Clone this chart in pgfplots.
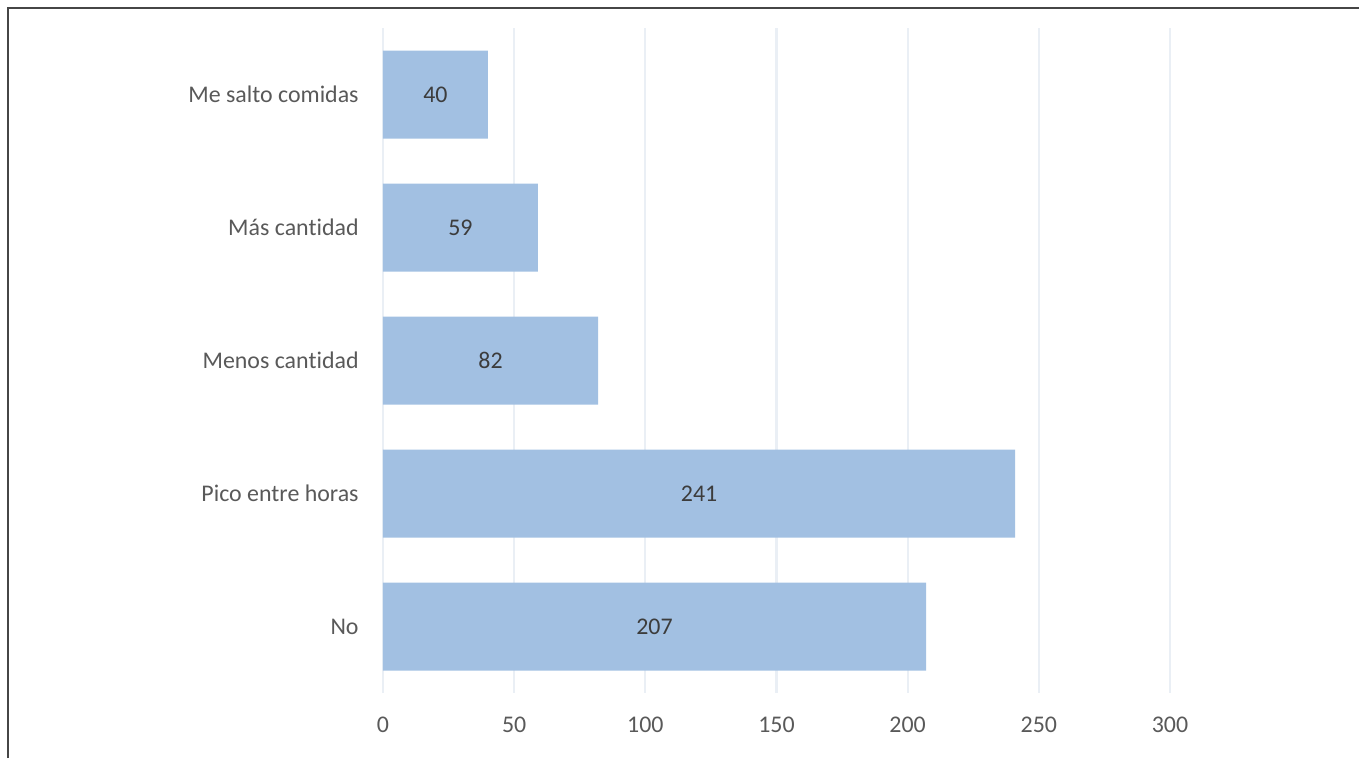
\documentclass[border=0pt]{standalone}
\usepackage{pgfplots}
\pgfplotsset{compat=1.18}
\usepackage{fontspec}
\setmainfont[Ligatures=NoCommon]{Carlito}
\definecolor{barblue}{RGB}{162,192,226}
\definecolor{txtgray}{RGB}{89,89,89}
\definecolor{lbl}{RGB}{60,60,60}
\definecolor{gridc}{RGB}{234,239,245}
\definecolor{framec}{RGB}{70,70,70}
\begin{document}
\begin{tikzpicture}[x=1cm,y=1cm]
\path[use as bounding box] (0,0) rectangle (13.59,7.58);
\draw[framec, line width=0.025cm] (0.08,0) -- (0.08,7.50) -- (13.59,7.50);
\begin{axis}[
  at={(3.83cm,0.65cm)}, anchor=south west,
  scale only axis, width=7.87cm, height=6.65cm,
  xbar, bar width=0.88cm,
  xmin=0, xmax=300, ymin=-0.5, ymax=4.5,
  axis line style={draw=none},
  xmajorgrids, grid style={gridc, line width=0.6pt},
  xtick={0,50,...,300},
  ytick={0,1,2,3,4},
  yticklabels={No, Pico entre horas, Menos cantidad, Más cantidad, Me salto comidas},
  major tick length=0pt,
  tick label style={font=\fontsize{6.8}{8}\selectfont, text=txtgray},
  /pgf/number format/assume math mode=true,
  xticklabel style={yshift=-0.12cm},
  yticklabel style={xshift=-0.12cm},
  nodes near coords,
  visualization depends on={rawx/2 \as \half},
  every node near coord/.append style={anchor=center, font=\fontsize{6.8}{8}\selectfont, text=lbl, shift={(axis direction cs:-\half,0)}},
]
\addplot[fill=barblue, draw=none] coordinates {(207,0) (241,1) (82,2) (59,3) (40,4)};
\end{axis}
\end{tikzpicture}
\end{document}
